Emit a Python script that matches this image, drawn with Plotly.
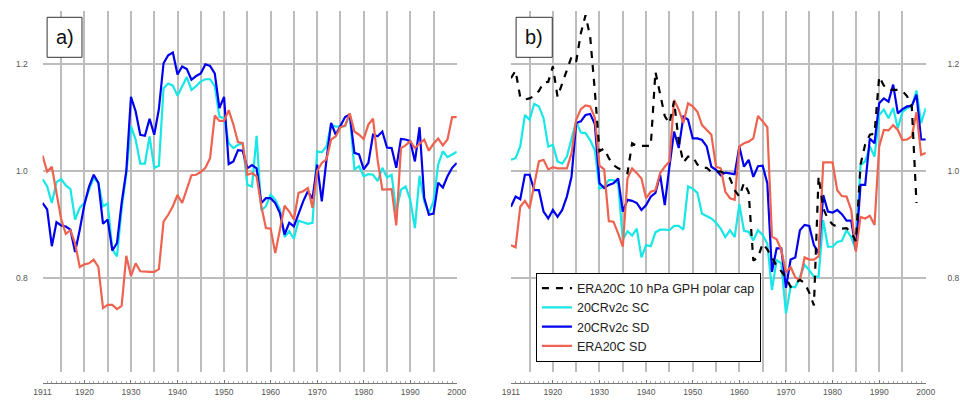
import plotly.graph_objects as go

years = list(range(1911, 2001))

# ---- panel a) ----
a_sc = [0.985, 0.971, 0.94, 0.979, 0.985, 0.973, 0.966, 0.909, 0.931, 0.94,
        0.965, 0.987, 0.978, 0.934, 0.939, 0.853, 0.84, 0.93, 0.995, 1.084,
        1.059, 1.014, 1.014, 1.065, 1.006, 1.01, 1.155, 1.164, 1.16, 1.141,
        1.159, 1.176, 1.152, 1.159, 1.168, 1.172, 1.172, 1.159, 1.102, 1.099,
        1.052, 1.043, 1.049, 1.052, 0.974, 0.971, 1.066, 0.926, 0.934, 0.956,
        0.946, 0.928, 0.876, 0.887, 0.873, 0.907, 0.904, 0.901, 0.903, 1.037,
        1.035, 1.046, 1.087, 1.083, 1.084, 1.084, 1.108, 1.003, 1.009, 0.99,
        0.994, 0.993, 0.981, 1.006, 0.988, 0.993, 0.923, 0.965, 0.971, 0.946,
        0.893, 0.991, 0.943, 0.921, 0.943, 1.012, 1.037, 1.026, 1.031, 1.036]

a_sd = [0.94, 0.928, 0.859, 0.904, 0.898, 0.896, 0.89, 0.848, 0.89, 0.937,
        0.971, 0.993, 0.978, 0.901, 0.909, 0.851, 0.865, 0.94, 1.0, 1.139,
        1.112, 1.068, 1.066, 1.098, 1.068, 1.116, 1.202, 1.217, 1.222, 1.181,
        1.196, 1.191, 1.171, 1.178, 1.183, 1.2, 1.197, 1.183, 1.118, 1.139,
        1.013, 1.018, 1.039, 1.038, 1.005, 1.011, 1.005, 0.94, 0.949, 0.949,
        0.94, 0.921, 0.881, 0.903, 0.896, 0.921, 0.943, 0.962, 0.948, 1.012,
        0.943, 1.021, 1.09, 1.068, 1.084, 1.101, 1.106, 1.034, 1.031, 1.003,
        1.015, 1.068, 1.065, 1.074, 1.044, 1.043, 1.006, 1.06, 1.059, 1.056,
        1.018, 1.082, 0.95, 0.918, 0.92, 0.978, 0.969, 0.99, 1.006, 1.015]

a_era = [1.029, 0.999, 1.008, 0.962, 0.91, 0.882, 0.889, 0.864, 0.82, 0.825,
         0.827, 0.834, 0.82, 0.743, 0.749, 0.749, 0.741, 0.747, 0.841, 0.803,
         0.827, 0.812, 0.811, 0.811, 0.811, 0.816, 0.905, 0.918, 0.934, 0.955,
         0.94, 0.965, 0.992, 0.993, 0.998, 1.006, 1.024, 1.104, 1.094, 1.094,
         1.114, 1.087, 1.054, 1.052, 0.993, 0.996, 0.99, 0.934, 0.893, 0.892,
         0.846, 0.89, 0.935, 0.924, 0.909, 0.959, 0.962, 0.968, 0.931, 1.0,
         1.015, 1.022, 1.059, 1.065, 1.082, 1.085, 1.108, 1.074, 1.068, 1.06,
         1.087, 1.098, 1.02, 0.965, 0.965, 0.966, 0.898, 1.043, 1.048, 1.056,
         1.043, 1.051, 1.059, 1.038, 1.051, 1.061, 1.048, 1.059, 1.101, 1.101]

# ---- panel b) ----
b_gph = [1.174, 1.188, 1.138, 1.134, 1.136, 1.141, 1.15, 1.166, 1.167, 1.196,
         1.139, 1.164, 1.192, 1.214, 1.205, 1.258, 1.292, 1.252, 1.15, 1.037,
         1.042, 1.024, 1.011, 1.005, 1.002, 0.996, 1.052, 1.047, 1.047, 1.047,
         1.047, 1.186, 1.143, 1.103, 1.089, 1.131, 1.056, 1.016, 1.027, 1.027,
         1.012, 1.006, 1.006, 0.998, 0.999, 0.999, 0.995, 0.986, 0.964, 0.952,
         0.978, 0.96, 0.832, 0.838, 0.864, 0.853, 0.838, 0.822, 0.812, 0.80,
         0.783, 0.789, 0.796, 0.79, 0.772, 0.748, 0.99, 0.93, 0.91, 0.90,
         0.895, 0.892, 0.893, 0.885, 0.868, 1.012, 1.05, 1.068, 1.07, 1.177,
         1.16, 1.152, 1.152, 1.152, 1.15, 1.14, 1.12, 0.94, None, None]

b_sc = [1.021, 1.024, 1.046, 1.105, 1.096, 1.126, 1.121, 1.099, 1.046, 1.049,
        1.018, 1.014, 1.027, 1.058, 1.093, 1.072, 1.071, 1.058, 1.039, 0.967,
        0.971, 0.983, 0.983, 0.977, 0.871, 0.887, 0.879, 0.892, 0.838, 0.861,
        0.859, 0.885, 0.89, 0.89, 0.889, 0.897, 0.897, 0.89, 0.971, 0.967,
        0.959, 0.92, 0.915, 0.911, 0.903, 0.892, 0.876, 0.889, 0.876, 0.938,
        0.888, 0.886, 0.87, 0.889, 0.88, 0.864, 0.777, 0.833, 0.827, 0.733,
        0.783, 0.782, 0.802, 0.824, 0.814, 0.802, 0.802, 0.908, 0.858, 0.858,
        0.867, 0.869, 0.889, 0.876, 0.852, 1.011, 1.018, 1.046, 1.027, 1.105,
        1.115, 1.099, 1.118, 1.08, 1.111, 1.118, 1.121, 1.151, 1.09, 1.118]

b_sd = [0.933, 0.952, 0.947, 0.993, 0.993, 0.964, 0.964, 0.924, 0.911, 0.927,
        0.914, 0.927, 0.952, 0.989, 1.09, 1.093, 1.105, 1.107, 1.088, 0.977,
        0.968, 0.974, 0.977, 0.986, 0.924, 0.946, 0.944, 0.94, 0.927, 0.936,
        0.952, 0.959, 0.993, 0.936, 1.008, 1.074, 1.043, 1.102, 1.096, 1.061,
        1.061, 1.058, 1.046, 1.008, 1.002, 0.992, 0.997, 0.996, 0.994, 1.046,
        1.008, 1.021, 0.989, 1.009, 1.01, 0.977, 0.811, 0.855, 0.855, 0.781,
        0.834, 0.838, 0.889, 0.899, 0.897, 0.861, 0.846, 0.955, 0.924, 0.922,
        0.927, 0.919, 0.907, 0.907, 0.852, 0.974, 0.974, 1.061, 1.052, 1.127,
        1.136, 1.13, 1.162, 1.108, 1.116, 1.121, 1.122, 1.143, 1.059, 1.059]

b_era = [0.861, 0.857, 0.933, 0.944, 0.93, 0.977, 1.018, 1.021, 1.003, 1.007,
         1.005, 1.005, 1.005, 1.033, 1.096, 1.116, 1.123, 1.121, 1.1, 1.01,
         1.003, 0.906, 0.905, 0.883, 0.858, 0.986, 1.005, 0.996, 0.986, 0.949,
         0.961, 0.964, 0.996, 1.008, 1.018, 1.133, 1.115, 1.09, 1.127, 1.121,
         1.111, 1.086, 1.077, 1.068, 1.008, 1.005, 0.961, 0.949, 0.946, 1.046,
         1.052, 1.055, 1.061, 1.103, 1.093, 1.082, 0.877, 0.872, 0.852, 0.81,
         0.82, 0.801, 0.795, 0.838, 0.834, 0.834, 0.84, 1.016, 1.016, 1.016,
         0.964, 0.953, 0.952, 0.927, 0.849, 0.914, 0.911, 0.916, 0.899, 1.046,
         1.077, 1.076, 1.086, 1.077, 1.058, 1.059, 1.065, 1.11, 1.03, 1.034]

grid_vals = list(range(1915, 2001, 5))
label_vals = [1911] + list(range(1920, 2001, 10))
y_ticks = [0.8, 1.0, 1.2]
y_labels = ["0.8", "1.0", "1.2"]

names = {"gph": "ERA20C 10 hPa GPH polar cap", "sc": "20CRv2c SC",
         "sd": "20CRv2c SD", "era": "ERA20C SD"}
colors = {"gph": "#000000", "sc": "#19E6E6", "sd": "#0000EE", "era": "#EE6350"}

fig = go.Figure()
LW = 2.2

# panel a
for key, vals in [("sc", a_sc), ("sd", a_sd), ("era", a_era)]:
    fig.add_trace(go.Scatter(x=years, y=vals, mode="lines", name=names[key],
                             line=dict(color=colors[key], width=LW),
                             xaxis="x", yaxis="y", showlegend=False))
# panel b
ranks = {"gph": 1, "sc": 2, "sd": 3, "era": 4}
for key, vals in [("sc", b_sc), ("sd", b_sd), ("era", b_era), ("gph", b_gph)]:
    dash = "7px,7px" if key == "gph" else "solid"
    fig.add_trace(go.Scatter(x=years, y=vals, mode="lines", name=names[key],
                             line=dict(color=colors[key], width=LW, dash=dash),
                             xaxis="x2", yaxis="y2", showlegend=True,
                             legendrank=ranks[key]))

# invisible carriers so the separate year axes below each panel get drawn
for xa, ya, vals in [("x3", "y", a_sc), ("x4", "y2", b_sc)]:
    fig.add_trace(go.Scatter(x=years, y=vals, mode="lines", xaxis=xa, yaxis=ya,
                             line=dict(width=0, color="rgba(0,0,0,0)"),
                             showlegend=False, hoverinfo="skip"))

W, H = 960, 401
xa_dom = [34.3 / W, 458.3 / W]
xb_dom = [513.7 / W, 938.3 / W]
y_dom = [1 - 371.7 / H, 1 - 11 / H]
y_rng = [0.6238, 1.2999]
GRID = "#BDBDBD"
TICKC = "#555555"
FONT = "Liberation Sans, Arial, Helvetica, sans-serif"

def grid_x(dom, anchor):
    return dict(domain=dom, range=[1911, 2000], anchor=anchor, tickmode="array",
                tickvals=grid_vals, showticklabels=False, showgrid=True,
                gridcolor=GRID, gridwidth=1.5, zeroline=False, showline=False,
                ticks="", fixedrange=True)

def label_x(over, dom):
    return dict(overlaying=over, anchor="free", position=1 - 383.3 / H,
                domain=dom, range=[1911, 2000], tickmode="array",
                tickvals=label_vals,
                ticktext=[str(v) for v in label_vals], showgrid=False,
                zeroline=False, showline=True, linecolor="#777777", linewidth=1,
                ticks="inside", ticklen=3, tickcolor="#777777", tickwidth=1,
                minor=dict(ticks="inside", ticklen=2, dtick=1, tick0=1911,
                           tickcolor="#AAAAAA", showgrid=False),
                tickfont=dict(size=8.5, color=TICKC, family=FONT))

def y_axis(anchor, side, tl):
    return dict(domain=y_dom, range=y_rng, anchor=anchor, side=side,
                tickmode="array", tickvals=y_ticks, ticktext=y_labels,
                showgrid=True, gridcolor=GRID, gridwidth=1.5, zeroline=False,
                showline=False, ticks="outside", ticklen=tl,
                tickcolor="rgba(0,0,0,0)",
                tickfont=dict(size=8.5, color=TICKC, family=FONT))

fig.update_layout(
    width=W, height=H,
    margin=dict(l=0, r=0, t=0, b=0),
    paper_bgcolor="white", plot_bgcolor="white",
    font=dict(family=FONT),
    xaxis=grid_x(xa_dom, "y"),
    yaxis=y_axis("x", "left", 12),
    xaxis2=grid_x(xb_dom, "y2"),
    yaxis2=y_axis("x2", "right", 19),
    xaxis3=label_x("x", xa_dom),
    xaxis4=label_x("x2", xb_dom),
    legend=dict(x=539.3 / W, y=1 - 317 / H, xanchor="left", yanchor="middle",
                bgcolor="white", bordercolor="#000000", borderwidth=1,
                font=dict(size=12.5, color="#222222", family=FONT),
                tracegroupgap=0, itemwidth=30),
    showlegend=True,
)

# panel labels
for lab, x0, x1 in [("a)", 39, 74.7), ("b)", 519, 556)]:
    fig.add_shape(type="rect", xref="paper", yref="paper",
                  x0=x0 / W, x1=x1 / W, y0=1 - 57.3 / H, y1=1 - 17.3 / H,
                  line=dict(color="#333333", width=1), fillcolor="white",
                  layer="above")
    fig.add_annotation(text=lab, xref="paper", yref="paper",
                       x=(x0 + x1) / 2 / W, y=1 - 37.3 / H, showarrow=False,
                       xanchor="center", yanchor="middle",
                       font=dict(size=20, color="#111111", family=FONT))

fig.write_html("out.html")
